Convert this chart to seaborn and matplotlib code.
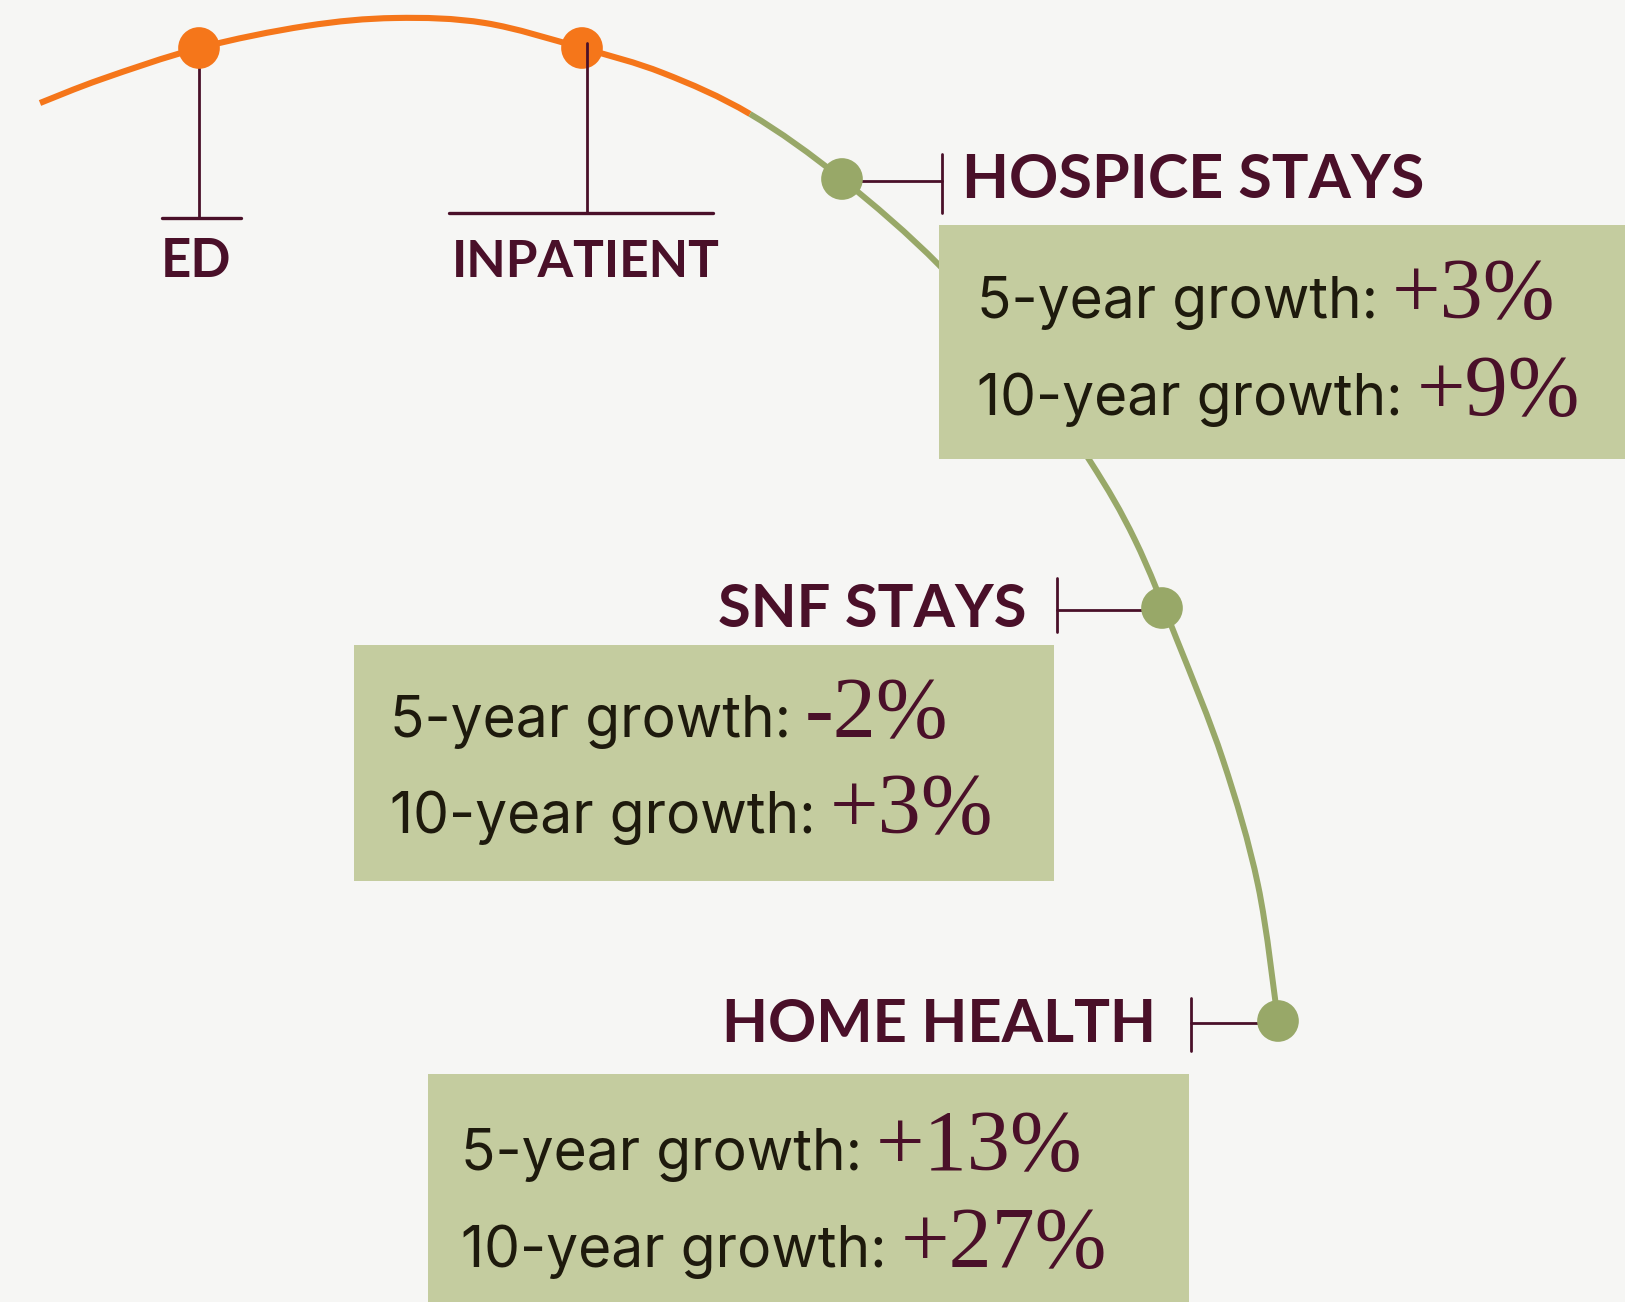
import numpy as np
import pandas as pd
import seaborn as sns
import matplotlib.pyplot as plt
from matplotlib.path import Path
from matplotlib.patches import PathPatch, Rectangle

# data
services = ["ED", "INPATIENT", "HOSPICE STAYS", "SNF STAYS", "HOME HEALTH"]
phase = ["acute", "acute", "post-acute", "post-acute", "post-acute"]
growth_5yr = [None, None, 3, -2, 13]
growth_10yr = [None, None, 9, 3, 27]

# layout, in pixels (y grows downward)
dot_x = [199, 582, 842, 1162, 1278]
dot_y = [48, 48, 179, 608, 1021]
curve_x = [40, 102, 199, 306, 395, 485, 582, 663, 750, 842, 939, 1020, 1090,
           1135, 1177, 1223, 1258, 1278]
curve_y = [103, 79, 48, 26, 18, 23, 48, 73, 114, 179, 265, 360, 461,
           540, 640, 760, 885, 1021]
split_at = 8  # curve turns from orange to green here

label_x = [196, 586, 962, 1026, 1156]
label_y = [277, 277, 198, 627, 1042]
label_ha = ["center", "center", "left", "right", "right"]
label_size = [38, 37, 44, 43, 43]

boxes = {2: (939, 225, 1625, 459), 3: (354, 645, 1054, 881), 4: (428, 1074, 1189, 1302)}
text_left = {2: 977, 3: 390, 4: 461}
baselines = {2: (318, 415), 3: (737, 833), 4: (1170, 1267)}

bg = "#f6f6f4"
orange = "#f5761a"
green = "#98a868"
box_col = "#c4cc9f"
maroon = "#4a1029"
ink = "#1e1a0d"

sns.set_theme(style="white")
plt.rcParams["font.family"] = ["Inter", "DejaVu Sans"]

fig = plt.figure(figsize=(16.25, 13.02), dpi=100, facecolor=bg)
ax = fig.add_axes([0, 0, 1, 1])
ax.set_facecolor(bg)
ax.set_xlim(0, 1625)
ax.set_ylim(1302, 0)
ax.axis("off")


def bezier_path(px, py, start, stop):
    # smooth curve through the anchor points, from anchor start to anchor stop
    pts = np.column_stack([px, py]).astype(float)
    p = np.vstack([pts[0], pts, pts[-1]])
    verts = [p[start + 1]]
    codes = [Path.MOVETO]
    for i in range(start + 1, stop + 1):
        c1 = p[i] + (p[i + 1] - p[i - 1]) / 6
        c2 = p[i + 1] - (p[i + 2] - p[i]) / 6
        verts += [c1, c2, p[i + 1]]
        codes += [Path.CURVE4] * 3
    return Path(verts, codes)


n = len(curve_x)
ax.add_patch(PathPatch(bezier_path(curve_x, curve_y, 0, split_at), fill=False,
                       edgecolor=orange, lw=4.4, capstyle="butt", zorder=1))
ax.add_patch(PathPatch(bezier_path(curve_x, curve_y, split_at, n - 1), fill=False,
                       edgecolor=green, lw=4.3, capstyle="butt", zorder=1))

# leader lines
lw_lead = 2.0
ax.plot([199, 199], [48, 218], color=maroon, lw=lw_lead, zorder=2)
ax.plot([162, 241], [218, 218], color=maroon, lw=lw_lead + 0.4, zorder=2)
ax.plot([587, 587], [43, 213], color=maroon, lw=lw_lead, zorder=6)
ax.plot([449, 713], [213, 213], color=maroon, lw=lw_lead + 0.4, zorder=2)
for i, (tx, y0, y1) in {2: (942, 154, 213), 3: (1057, 578, 632), 4: (1191, 998, 1051)}.items():
    ax.plot([dot_x[i], tx], [dot_y[i] + 2, dot_y[i] + 2], color=maroon, lw=lw_lead, zorder=2)
    ax.plot([tx, tx], [y0, y1], color=maroon, lw=lw_lead, zorder=2)

dots = pd.DataFrame({"x": dot_x, "y": dot_y, "phase": phase})
sns.scatterplot(data=dots, x="x", y="y", hue="phase",
                palette={"acute": orange, "post-acute": green},
                s=900, edgecolor="none", legend=False, ax=ax, zorder=5)

for i, name in enumerate(services):
    ax.text(label_x[i], label_y[i], name, ha=label_ha[i], va="baseline",
            fontsize=label_size[i], fontweight="bold", family=["Lato", "DejaVu Sans"],
            color=maroon, zorder=7)

fig.canvas.draw()
renderer = fig.canvas.get_renderer()
inv = ax.transData.inverted()

for i, (x0, y0, x1, y1) in boxes.items():
    ax.add_patch(Rectangle((x0, y0), x1 - x0, y1 - y0, facecolor=box_col,
                           edgecolor="none", zorder=3))
    for period, vals, base in zip(["5-year", "10-year"], [growth_5yr, growth_10yr], baselines[i]):
        t = ax.text(text_left[i], base, f"{period} growth:", ha="left", va="baseline",
                    fontsize=41, color=ink, zorder=4)
        bb = t.get_window_extent(renderer)
        right = inv.transform((bb.x1, bb.y0))[0]
        ax.text(right + 14, base, f"{vals[i]:+d}%", ha="left", va="baseline",
                fontsize=62, family=["Liberation Serif", "DejaVu Serif"],
                color=maroon, zorder=4)

fig.savefig("out.png", dpi=100, facecolor=bg)
